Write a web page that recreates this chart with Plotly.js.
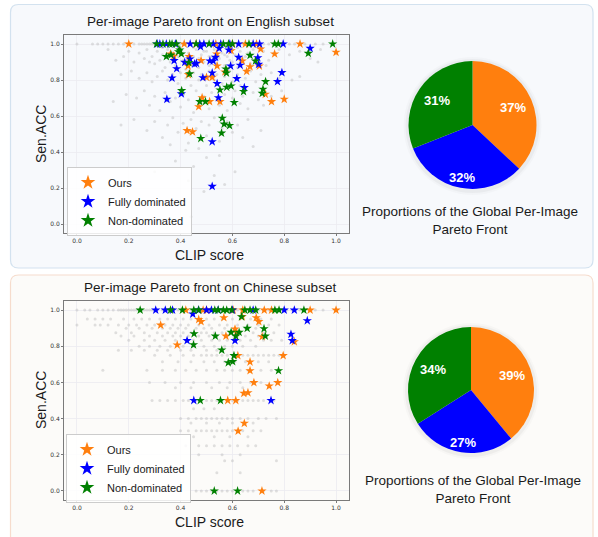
<!DOCTYPE html>
<html><head><meta charset="utf-8">
<script src="https://cdn.plot.ly/plotly-3.0.1.min.js"></script>
<style>html,body{margin:0;padding:0;background:#fff}#chart{width:598px;height:537px}</style>
</head><body><div id="chart"></div>
<script>
// ---------- DATA ----------
const seriesNames = ['Ours', 'Fully dominated', 'Non-dominated'];
const tickVals = [0, 0.2, 0.4, 0.6, 0.8, 1.0];

// English subset stars
const enOursX = [0.20,0.414,0.46,0.536,0.60,0.65,0.693,0.861,1.0,0.709,0.763,0.595,0.361,0.374,0.433,0.479,0.539,0.541,0.429,0.430,0.50,0.522,0.571,0.638,0.655,0.668,0.704,0.727,0.80,0.751,0.483,0.512,0.552,0.470,0.425,0.446];
const enOursY = [1,1,1,1,1,1,1,1,0.954,0.972,0.945,0.963,0.945,0.933,0.930,0.908,0.945,0.878,0.878,0.830,0.815,0.815,0.845,0.906,0.848,0.874,0.878,0.721,0.693,0.680,0.702,0.680,0.680,0.652,0.519,0.512];
const enDomX = [0.31,0.32,0.345,0.38,0.437,0.474,0.49,0.526,0.555,0.59,0.624,0.68,0.705,0.796,0.90,0.477,0.549,0.586,0.375,0.416,0.436,0.454,0.461,0.513,0.526,0.535,0.593,0.624,0.630,0.698,0.701,0.385,0.522,0.486,0.367,0.617,0.541,0.646,0.791,0.774,0.403,0.347,0.546,0.522,0.522];
const enDomY = [1,1,1,1,1,1,1,1,1,1,1,1,1,1,0.976,0.985,0.976,0.967,0.908,0.898,0.917,0.889,0.893,0.906,0.906,0.926,0.878,0.926,0.882,0.924,0.887,0.863,0.839,0.813,0.811,0.808,0.780,0.758,0.841,0.791,0.723,0.693,0.702,0.457,0.209];
const enNonX = [0.307,0.332,0.358,0.367,0.384,0.46,0.51,0.565,0.585,0.60,0.664,0.763,0.777,0.987,0.893,0.397,0.392,0.403,0.345,0.363,0.432,0.435,0.668,0.689,0.575,0.577,0.728,0.718,0.715,0.643,0.595,0.578,0.552,0.404,0.474,0.496,0.607,0.561,0.568,0.589,0.558,0.478];
const enNonY = [1,1,1,1,1,1,1,1,1,1,1,1,1,1,0.948,0.967,0.957,0.945,0.930,0.939,0.896,0.834,0.937,0.906,0.861,0.839,0.791,0.749,0.726,0.736,0.767,0.760,0.745,0.741,0.680,0.680,0.675,0.588,0.555,0.547,0.505,0.475];

// English subset background (all images), read approximately
const enGrayTopRowX = [0.0,0.06,0.08,0.10,0.12,0.14,0.16,0.18,0.22,0.24,0.25,0.26,0.27,0.28,0.29,0.30,0.31,0.33,0.34,0.36,0.38,0.40,0.42,0.44,0.46,0.48,0.50,0.52,0.54,0.56,0.58,0.60,0.62,0.64,0.66,0.68,0.70,0.72,0.74,0.76,0.78,0.80,0.82,0.84,0.88,0.92,0.95];
const enGrayPts = [
 [0.12,0.97],[0.15,0.91],[0.18,0.93],[0.20,0.96],[0.22,0.90],[0.24,0.95],[0.26,0.92],[0.27,0.97],[0.29,0.93],[0.30,0.89],[0.31,0.96],[0.32,0.91],[0.33,0.94],[0.34,0.87],[0.35,0.97],[0.36,0.90],[0.37,0.95],[0.38,0.88],[0.39,0.93],[0.40,0.97],[0.41,0.91],[0.42,0.86],[0.43,0.95],[0.44,0.89],[0.45,0.93],[0.46,0.97],[0.47,0.87],[0.48,0.94],[0.49,0.90],[0.50,0.96],[0.51,0.88],[0.52,0.93],[0.53,0.97],[0.54,0.89],[0.55,0.92],[0.56,0.95],[0.57,0.88],[0.58,0.93],[0.59,0.97],[0.60,0.90],[0.61,0.94],[0.62,0.87],[0.63,0.96],[0.64,0.92],[0.66,0.95],[0.67,0.89],[0.68,0.97],[0.70,0.93],[0.72,0.96],[0.74,0.91],[0.76,0.95],[0.78,0.97],[0.82,0.94],[0.86,0.96],[0.90,0.92],[0.94,0.97],[0.93,0.90],
 [0.28,0.90],[0.33,0.98],[0.36,0.93],[0.39,0.97],[0.41,0.95],[0.43,0.91],[0.45,0.98],[0.47,0.92],[0.49,0.96],[0.51,0.93],[0.53,0.91],[0.55,0.98],[0.57,0.94],[0.59,0.91],[0.62,0.98],[0.65,0.93],[0.69,0.91],[0.71,0.98],[0.73,0.88],
 [0.17,0.83],[0.21,0.85],[0.24,0.81],[0.27,0.84],[0.29,0.79],[0.31,0.82],[0.33,0.85],[0.35,0.80],[0.37,0.83],[0.39,0.78],[0.40,0.84],[0.42,0.81],[0.44,0.77],[0.45,0.84],[0.47,0.80],[0.48,0.83],[0.50,0.77],[0.51,0.85],[0.53,0.80],[0.54,0.83],[0.56,0.78],[0.57,0.82],[0.59,0.85],[0.60,0.79],[0.62,0.83],[0.63,0.77],[0.65,0.81],[0.67,0.85],[0.69,0.79],[0.71,0.83],[0.73,0.80],[0.75,0.84],[0.78,0.81],[0.83,0.80],[0.86,0.82],
 [0.14,0.68],[0.19,0.72],[0.23,0.70],[0.26,0.74],[0.28,0.66],[0.30,0.71],[0.32,0.63],[0.34,0.73],[0.36,0.68],[0.38,0.70],[0.40,0.65],[0.41,0.72],[0.43,0.69],[0.45,0.62],[0.46,0.74],[0.48,0.67],[0.49,0.71],[0.51,0.64],[0.52,0.73],[0.54,0.69],[0.55,0.66],[0.57,0.72],[0.58,0.63],[0.60,0.70],[0.61,0.74],[0.63,0.67],[0.64,0.71],[0.66,0.64],[0.68,0.73],[0.70,0.69],[0.72,0.66],[0.75,0.71],[0.79,0.74],
 [0.17,0.55],[0.22,0.58],[0.27,0.52],[0.30,0.57],[0.33,0.48],[0.35,0.55],[0.37,0.59],[0.39,0.51],[0.41,0.56],[0.43,0.45],[0.44,0.58],[0.46,0.53],[0.48,0.57],[0.50,0.49],[0.51,0.55],[0.53,0.59],[0.55,0.46],[0.56,0.53],[0.58,0.57],[0.60,0.51],[0.62,0.55],[0.64,0.48],[0.66,0.58],[0.68,0.43],[0.71,0.52],[0.42,0.41],[0.47,0.42],[0.36,0.44],
 [0.30,0.29],[0.38,0.35],[0.45,0.32],[0.50,0.37],[0.53,0.27],[0.55,0.38],[0.61,0.29],[0.49,0.18],[0.43,0.24],[0.57,0.22],[0.44,0.04],[0.40,0.13]
];

// Chinese subset stars
const zhOursX = [0.42,0.487,0.50,0.603,0.64,0.723,0.751,0.90,1.0,0.323,0.387,0.470,0.479,0.567,0.610,0.616,0.575,0.638,0.692,0.702,0.715,0.839,0.621,0.668,0.668,0.796,0.683,0.775,0.742,0.644,0.660,0.582,0.613,0.646,0.622,0.714];
const zhOursY = [1,1,1,1,1,1,1,1,1,0.917,0.807,0.948,0.936,0.958,0.895,0.877,0.856,0.963,0.958,0.936,0.853,0.825,0.748,0.713,0.665,0.748,0.599,0.599,0.580,0.540,0.543,0.5,0.5,0.374,0.331,0.0];
const zhDomX = [0.304,0.341,0.369,0.469,0.50,0.519,0.545,0.60,0.68,0.80,0.839,0.447,0.889,0.826,0.831,0.425,0.610,0.451,0.749];
const zhDomY = [1,1,1,1,1,1,1,1,1,1,1,0.978,0.941,0.866,0.831,0.831,0.831,0.5,0.5];
const zhNonX = [0.244,0.361,0.407,0.451,0.47,0.532,0.545,0.565,0.578,0.597,0.648,0.668,0.69,0.764,0.78,0.876,0.635,0.452,0.450,0.534,0.595,0.626,0.613,0.657,0.722,0.727,0.559,0.606,0.601,0.584,0.778,0.476,0.554,0.530,0.620];
const zhNonY = [1,1,1,1,1,1,1,1,1,1,1,1,1,1,1,1,0.963,0.869,0.808,0.856,0.877,0.877,0.856,0.899,0.897,0.856,0.779,0.748,0.715,0.709,0.665,0.5,0.5,0.0,0.0];

// Chinese subset background: Sen.ACC level -> CLIP scores
const zhGrayRows = [
 [1.0,[0.0,0.03,0.05,0.08,0.10,0.12,0.14,0.16,0.17,0.18,0.19,0.20,0.21,0.22,0.23,0.24,0.25,0.26,0.27,0.28,0.29,0.31,0.33,0.35,0.37,0.39,0.42,0.44,0.46,0.48,0.50,0.52,0.54,0.56,0.58,0.60,0.62,0.64,0.66,0.68,0.70,0.72,0.74,0.76,0.78,0.81,0.83,0.86,0.88,0.92,0.95]],
 [0.95,[0.04,0.07,0.10,0.13,0.18,0.22,0.25,0.28,0.32,0.35,0.38,0.41,0.44,0.50,0.53,0.56,0.60,0.63,0.67,0.71,0.75]],
 [0.917,[0.0,0.07,0.09,0.12,0.16,0.20,0.23,0.27,0.30,0.34,0.37,0.40,0.43,0.47,0.51,0.55,0.58,0.62,0.66,0.70,0.74,0.78]],
 [0.9,[0.19,0.24,0.29,0.33,0.36,0.39,0.42,0.46,0.49,0.52,0.57,0.61,0.65,0.69]],
 [0.875,[0.15,0.21,0.26,0.31,0.35,0.38,0.41,0.44,0.48,0.50,0.53,0.56,0.59,0.63,0.68,0.72,0.76]],
 [0.857,[0.17,0.22,0.28,0.33,0.37,0.40,0.43,0.47,0.51,0.54,0.58,0.62,0.65,0.70]],
 [0.833,[0.20,0.26,0.30,0.34,0.38,0.42,0.45,0.48,0.52,0.55,0.58,0.63,0.67,0.72,0.75,0.79]],
 [0.8,[0.24,0.28,0.32,0.36,0.41,0.45,0.49,0.53,0.57,0.60,0.64,0.69]],
 [0.778,[0.16,0.21,0.26,0.31,0.35,0.40,0.44,0.50,0.54]],
 [0.75,[0.30,0.36,0.41,0.45,0.48,0.50,0.52,0.54,0.56,0.58,0.60,0.62,0.64,0.66,0.68,0.70,0.72,0.74,0.76,0.78,0.80]],
 [0.714,[0.33,0.39,0.44,0.49,0.53,0.57,0.61,0.65,0.70,0.74]],
 [0.667,[0.10,0.27,0.33,0.38,0.42,0.46,0.50,0.54,0.57,0.60,0.63,0.66,0.71,0.75]],
 [0.6,[0.28,0.34,0.40,0.45,0.50,0.55,0.59,0.63,0.67,0.71]],
 [0.571,[0.38,0.44,0.52,0.58,0.64]],
 [0.5,[0.29,0.32,0.35,0.38,0.41,0.43,0.46,0.48,0.50,0.52,0.54,0.56,0.58,0.60,0.62,0.64,0.66,0.68,0.70,0.72,0.76]],
 [0.455,[0.45,0.49,0.53]],
 [0.4,[0.40,0.43,0.46,0.48,0.50,0.52,0.54,0.56,0.58,0.60,0.63,0.66,0.70,0.73,0.77]],
 [0.375,[0.44,0.50,0.55,0.60,0.68]],
 [0.333,[0.40,0.43,0.46,0.48,0.50,0.52,0.54,0.56,0.58,0.60,0.64,0.68,0.71]],
 [0.3,[0.45,0.53,0.59,0.66]],
 [0.25,[0.42,0.47,0.50,0.53,0.56,0.59,0.62,0.66,0.69]],
 [0.2,[0.47,0.56,0.63]],
 [0.167,[0.57,0.60,0.77]],
 [0.1,[0.54,0.63]],
 [0.0,[0.46,0.48,0.50,0.52,0.54,0.56,0.58,0.60,0.64,0.66,0.68,0.72,0.75,0.77]]
];

// Pie shares (%)
const enPieValues = [37, 32, 31];
const zhPieValues = [39, 27, 34];

// ---------- STYLE ----------
const COLORS = ['#ff7f0e', '#0000ff', '#008000'];
const GRAY = 'rgba(180,180,180,0.4)';
const FONT = 'Liberation Sans, Arial, sans-serif';
const W = 598, H = 537;
const px = x => x / W, py = y => 1 - y / H;
const labelRadius = [0.69, 0.84, 0.68];   // relative radius of the white % labels per slice

// build background arrays
const enGX = enGrayTopRowX.concat(enGrayPts.map(p => p[0]));
const enGY = enGrayTopRowX.map(() => 1).concat(enGrayPts.map(p => p[1]));
const zhGX = [], zhGY = [];
zhGrayRows.forEach(r => r[1].forEach(x => { zhGX.push(x); zhGY.push(r[0]); }));

function gray(x, y, xa, ya) {
  return {type:'scatter', mode:'markers', x, y, xaxis:xa, yaxis:ya, showlegend:false, hoverinfo:'skip',
    marker:{size:3, color:GRAY}};
}
function stars(x, y, i, xa, ya) {
  return {type:'scatter', mode:'markers', x, y, xaxis:xa, yaxis:ya, name:seriesNames[i], showlegend:false,
    marker:{symbol:'star', size:7, color:COLORS[i], line:{width:0}}};
}
function legendEntry(i, lg) {
  return {type:'scatter', mode:'markers', x:[null], y:[null], xaxis:'x', yaxis:'y', name:seriesNames[i], legend:lg,
    marker:{symbol:'star', size:11, color:COLORS[i]}};
}
function pie(values, dom) {
  return {type:'pie', values, labels:seriesNames, sort:false, direction:'clockwise', rotation:0,
    marker:{colors:COLORS, line:{width:0}}, textinfo:'none', showlegend:false, hoverinfo:'none', domain:dom};
}

const enPieDom = {x:[px(408), px(537)], y:[py(189), py(61)]};
const zhPieDom = {x:[px(408), px(534)], y:[py(453), py(327)]};

const traces = [
  gray(enGX, enGY, 'x', 'y'),
  stars(enOursX, enOursY, 0, 'x', 'y'),
  stars(enDomX, enDomY, 1, 'x', 'y'),
  stars(enNonX, enNonY, 2, 'x', 'y'),
  gray(zhGX, zhGY, 'x2', 'y2'),
  stars(zhOursX, zhOursY, 0, 'x2', 'y2'),
  stars(zhDomX, zhDomY, 1, 'x2', 'y2'),
  stars(zhNonX, zhNonY, 2, 'x2', 'y2'),
  legendEntry(0,'legend'), legendEntry(1,'legend'), legendEntry(2,'legend'),
  legendEntry(0,'legend2'), legendEntry(1,'legend2'), legendEntry(2,'legend2'),
  pie(enPieValues, enPieDom),
  pie(zhPieValues, zhPieDom)
];

function axis(dom, anchor) {
  return {domain:dom, anchor, range:[-0.05, 1.05], tickvals:tickVals, tickformat:'.1f',
    showgrid:true, gridcolor:'#ebebf0', gridwidth:0.8, zeroline:false,
    showline:true, mirror:true, linecolor:'#7a7a7a', linewidth:1, ticks:'outside', ticklen:2, tickcolor:'#7a7a7a',
    tickfont:{size:6, color:'#333', family:'DejaVu Sans, sans-serif'}};
}

function roundRect(x0, y0, x1, y1, r) {
  const f = (x, y) => px(x) + ',' + py(y);
  return 'M' + f(x0 + r, y0) + ' L' + f(x1 - r, y0) + ' Q' + f(x1, y0) + ' ' + f(x1, y0 + r) +
    ' L' + f(x1, y1 - r) + ' Q' + f(x1, y1) + ' ' + f(x1 - r, y1) +
    ' L' + f(x0 + r, y1) + ' Q' + f(x0, y1) + ' ' + f(x0, y1 - r) +
    ' L' + f(x0, y0 + r) + ' Q' + f(x0, y0) + ' ' + f(x0 + r, y0) + ' Z';
}
function circ(cx, cy, r, fill) {
  return {type:'circle', xref:'paper', yref:'paper', layer:'below', x0:px(cx - r), x1:px(cx + r), y0:py(cy + r), y1:py(cy - r),
    fillcolor:fill, line:{width:0}};
}

const shapes = [
  {type:'path', xref:'paper', yref:'paper', layer:'below', path:roundRect(10.5, 4.5, 593, 268, 8),
    fillcolor:'#f7f9fc', line:{color:'#d3e2ef', width:1.2}},
  {type:'path', xref:'paper', yref:'paper', layer:'below', path:roundRect(10.5, 275, 593, 548, 8),
    fillcolor:'#fcfbf9', line:{color:'#f6dccd', width:1.2}},
  circ(472.5, 126, 69, 'rgba(0,0,0,0.02)'),
  circ(472.5, 126, 67, 'rgba(0,0,0,0.035)'),
  circ(471, 391, 68, 'rgba(0,0,0,0.02)'),
  circ(471, 391, 66, 'rgba(0,0,0,0.035)')
];

function ann(text, x, y, size, extra) {
  return Object.assign({text, xref:'paper', yref:'paper', x:px(x), y:py(y), showarrow:false,
    xanchor:'center', yanchor:'middle', font:{size, color:'#1a1a1a', family:FONT}}, extra || {});
}

// white percentage labels placed at each slice's mid-angle (pie starts at 12 o'clock, clockwise)
function pieLabels(values, dom) {
  const total = values.reduce((a, b) => a + b, 0);
  const x0 = dom.x[0], x1 = dom.x[1], y0 = dom.y[0], y1 = dom.y[1];
  const cxp = (x0 + x1) / 2 * W, cyp = (1 - (y0 + y1) / 2) * H;
  const R = Math.min((x1 - x0) * W, (y1 - y0) * H) / 2;
  let cum = 0;
  return values.map((v, i) => {
    const mid = (cum + v / 2) / total; cum += v;
    const th = Math.PI / 2 - 2 * Math.PI * mid;
    const k = labelRadius[i] * R;
    return ann(Math.round(v / total * 100) + '%', cxp + k * Math.cos(th), cyp - k * Math.sin(th), 13,
      {font:{size:13, color:'#ffffff', family:FONT, weight:'bold'}});
  });
}

const annotations = [
  ann('Per-image Pareto front on English subset', 210, 21, 13.5),
  ann('Per-image Pareto front on Chinese subset', 210, 287, 13.5),
  ann('CLIP score', 209, 255, 14),
  ann('CLIP score', 209, 522, 14),
  ann('Sen.ACC', 41, 134, 14, {textangle:-90}),
  ann('Sen.ACC', 41, 400, 14, {textangle:-90}),
  ann('Proportions of the Global Per-Image<br>Pareto Front', 470, 221, 13.5),
  ann('Proportions of the Global Per-Image<br>Pareto Front', 473, 489, 13.5)
].concat(pieLabels(enPieValues, enPieDom), pieLabels(zhPieValues, zhPieDom));

const legendStyle = (x, y) => ({x:px(x), y:py(y), xanchor:'left', yanchor:'top',
  bgcolor:'rgba(255,255,255,0.85)', bordercolor:'#cccccc', borderwidth:1,
  font:{size:11, color:'#1a1a1a', family:FONT}, itemwidth:30, tracegroupgap:0});

const layout = {
  width:W, height:H, margin:{l:0, r:0, t:0, b:0},
  paper_bgcolor:'#ffffff', plot_bgcolor:'rgba(0,0,0,0)',
  font:{family:FONT},
  showlegend:true,
  legend:legendStyle(67, 167),
  legend2:legendStyle(66, 434),
  xaxis:axis([px(64), px(349)], 'y'),
  yaxis:axis([py(233), py(35)], 'x'),
  xaxis2:axis([px(64), px(349)], 'y2'),
  yaxis2:axis([py(500), py(301)], 'x2'),
  shapes, annotations
};

Plotly.newPlot('chart', traces, layout, {displayModeBar:false, staticPlot:true});
</script></body></html>
